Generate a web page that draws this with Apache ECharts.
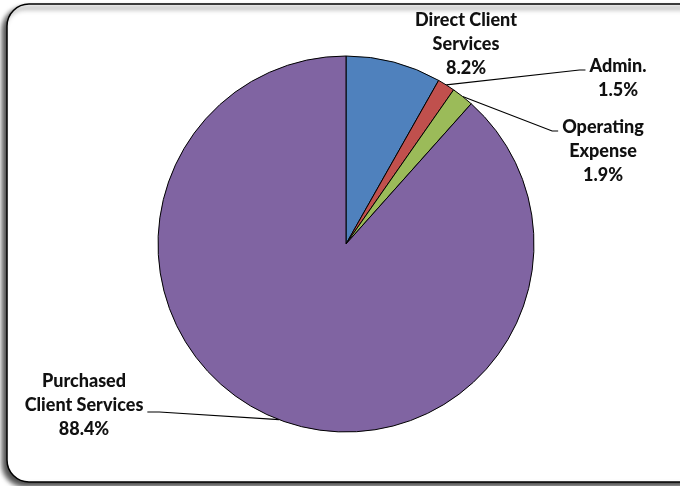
<!DOCTYPE html>
<html><head><meta charset="utf-8">
<script src="https://cdn.jsdelivr.net/npm/echarts@6/dist/echarts.min.js"></script>
<style>html,body{margin:0;padding:0;background:#fff;}#c{width:680px;height:486px;}</style>
</head><body><div id="c"></div>
<script>
const categories = ['Direct Client\nServices', 'Admin.', 'Operating\nExpense', 'Purchased\nClient Services'];
const values = [8.2, 1.5, 1.9, 88.4];
const colors = ['#4F81BD', '#C0504D', '#9BBB59', '#8064A2'];
// label anchor positions (text centre x, top y)
const labelPos = [[466, 8], [618, 54], [603, 115], [84, 369]];
// which side of the label the leader meets, and at what offset from its top
const lineSide = [null, 'left', 'left', 'right'];
const lineDy = [0, 16, 16, 43];

const chart = echarts.init(document.getElementById('c'));
chart.setOption({
  animation: false,
  graphic: [{
    type: 'rect', z: 0,
    shape: { x: 7, y: 4, width: 700, height: 478, r: 22 },
    style: { fill: '#fff', stroke: '#000', lineWidth: 1.5,
      shadowBlur: 5, shadowOffsetX: -4, shadowOffsetY: 4, shadowColor: 'rgba(0,0,0,0.7)' }
  }],
  series: [{
    type: 'pie', z: 5,
    center: [346, 244], radius: 188,
    startAngle: 90, clockwise: true,
    itemStyle: { borderColor: '#000', borderWidth: 1 },
    label: {
      show: true, position: 'outside', color: '#111',
      fontFamily: 'Lato', fontWeight: 900, fontSize: 18, lineHeight: 24,
      align: 'center',
      formatter: p => p.name + '\n' + p.value.toFixed(1) + '%'
    },
    labelLine: { show: true, lineStyle: { color: '#000', width: 1.2 }, length: 20, length2: 8 },
    labelLayout: function (params) {
      const i = params.dataIndex;
      const x = labelPos[i][0], y = labelPos[i][1];
      const out = { x: x, y: y, align: 'center', verticalAlign: 'top' };
      if (lineSide[i] && params.labelLinePoints) {
        const w = params.labelRect.width;
        const start = params.labelLinePoints[0];
        const ey = y + lineDy[i];
        let ex, elx;
        if (lineSide[i] === 'left') { ex = x - w / 2 - 4; elx = ex - 6; }
        else { ex = x + w / 2 + 4; elx = ex + 12; }
        out.labelLinePoints = [[start[0], start[1]], [elx, ey], [ex, ey]];
      }
      return out;
    },
    data: categories.map((n, i) => ({
      name: n, value: values[i], itemStyle: { color: colors[i] },
      labelLine: { show: !!lineSide[i] }
    }))
  }]
});
</script></body></html>
